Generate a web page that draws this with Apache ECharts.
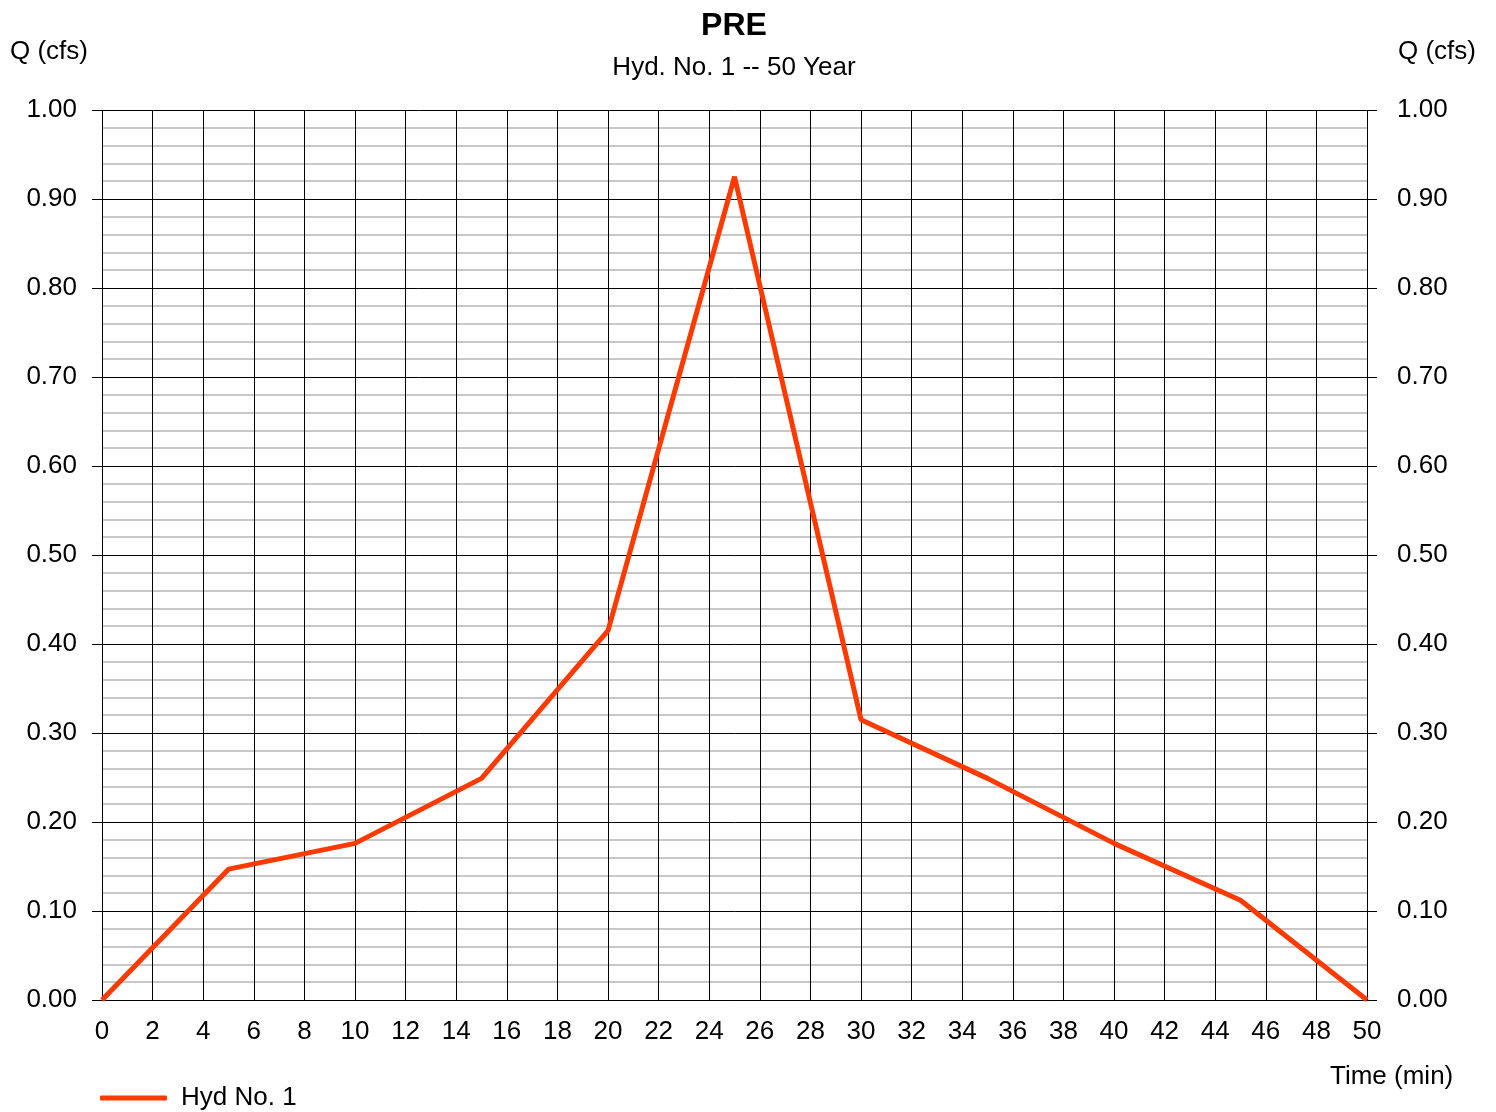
<!DOCTYPE html>
<html>
<head>
<meta charset="utf-8">
<script src="https://cdn.jsdelivr.net/npm/echarts@6/dist/echarts.min.js"></script>
<style>
  html, body { margin: 0; padding: 0; background: #fff; }
  #chart { width: 1496px; height: 1112px; }
</style>
</head>
<body>
<div id="chart"></div>
<script>
// hydrograph ordinates
const timeMin = [0, 5, 10, 15, 20, 25, 30, 35, 40, 45, 50]
const flowCfs = [0, 0.147, 0.176, 0.249, 0.415, 0.925, 0.315, 0.249, 0.176, 0.112, 0]
const seriesName = 'Hyd No. 1'

const font = 'Liberation Sans, Arial, sans-serif'
const lineColor = '#ff3a00'

const chart = echarts.init(document.getElementById('chart'))

function yAxis(pos, showGrid) {
  return {
    type: 'value',
    position: pos,
    min: 0,
    max: 1,
    interval: 0.1,
    axisLine: { show: false },
    axisTick: { show: true, length: 10, lineStyle: { color: '#000', width: 1 } },
    axisLabel: {
      color: '#000', fontSize: 26, fontFamily: font,
      margin: pos === 'left' ? 25 : 30,
      padding: [5, 0, 0, 0],
      formatter: (v) => v.toFixed(2),
    },
    splitLine: { show: showGrid, lineStyle: { color: '#000', width: 1 } },
    minorTick: { show: false, splitNumber: 5 },
    minorSplitLine: { show: showGrid, lineStyle: { color: '#c8c8c8', width: 2 } },
  }
}

chart.setOption({
  backgroundColor: '#fff',
  animation: false,
  title: {
    text: 'PRE',
    subtext: 'Hyd. No. 1 -- 50 Year',
    left: 729,
    textAlign: 'center',
    top: 5,
    itemGap: 13,
    textStyle: { color: '#000', fontSize: 32, fontWeight: 'bold', fontFamily: font },
    subtextStyle: { color: '#000', fontSize: 26, fontFamily: font },
  },
  grid: { left: 102, right: 129, top: 110, bottom: 112 },
  legend: {
    left: 100,
    top: 1085,
    padding: 0,
    icon: 'roundRect',
    itemWidth: 67,
    itemHeight: 5,
    textStyle: { color: '#000', fontSize: 26, fontFamily: font, padding: [0, 0, 0, 9] },
    data: [seriesName],
  },
  graphic: [
    { type: 'text', left: 10, top: 39, style: { text: 'Q (cfs)', font: '26px ' + font, fill: '#000' } },
    { type: 'text', left: 1398, top: 39, style: { text: 'Q (cfs)', font: '26px ' + font, fill: '#000' } },
    { type: 'text', left: 1330, top: 1064, style: { text: 'Time (min)', font: '26px ' + font, fill: '#000' } },
  ],
  xAxis: {
    type: 'value',
    min: 0,
    max: 50,
    interval: 2,
    axisLine: { show: true, onZero: false, lineStyle: { color: '#000', width: 1 } },
    axisTick: { show: false },
    axisLabel: { color: '#000', fontSize: 26, fontFamily: font, margin: 19 },
    splitLine: { show: true, lineStyle: { color: '#000', width: 1 } },
  },
  yAxis: [yAxis('left', true), yAxis('right', false)],
  series: [
    {
      name: seriesName,
      type: 'line',
      data: timeMin.map((t, i) => [t, flowCfs[i]]),
      showSymbol: false,
      symbol: 'none',
      lineStyle: { color: lineColor, width: 5 },
      itemStyle: { color: lineColor },
      z: 5,
    },
  ],
})
</script>
</body>
</html>
